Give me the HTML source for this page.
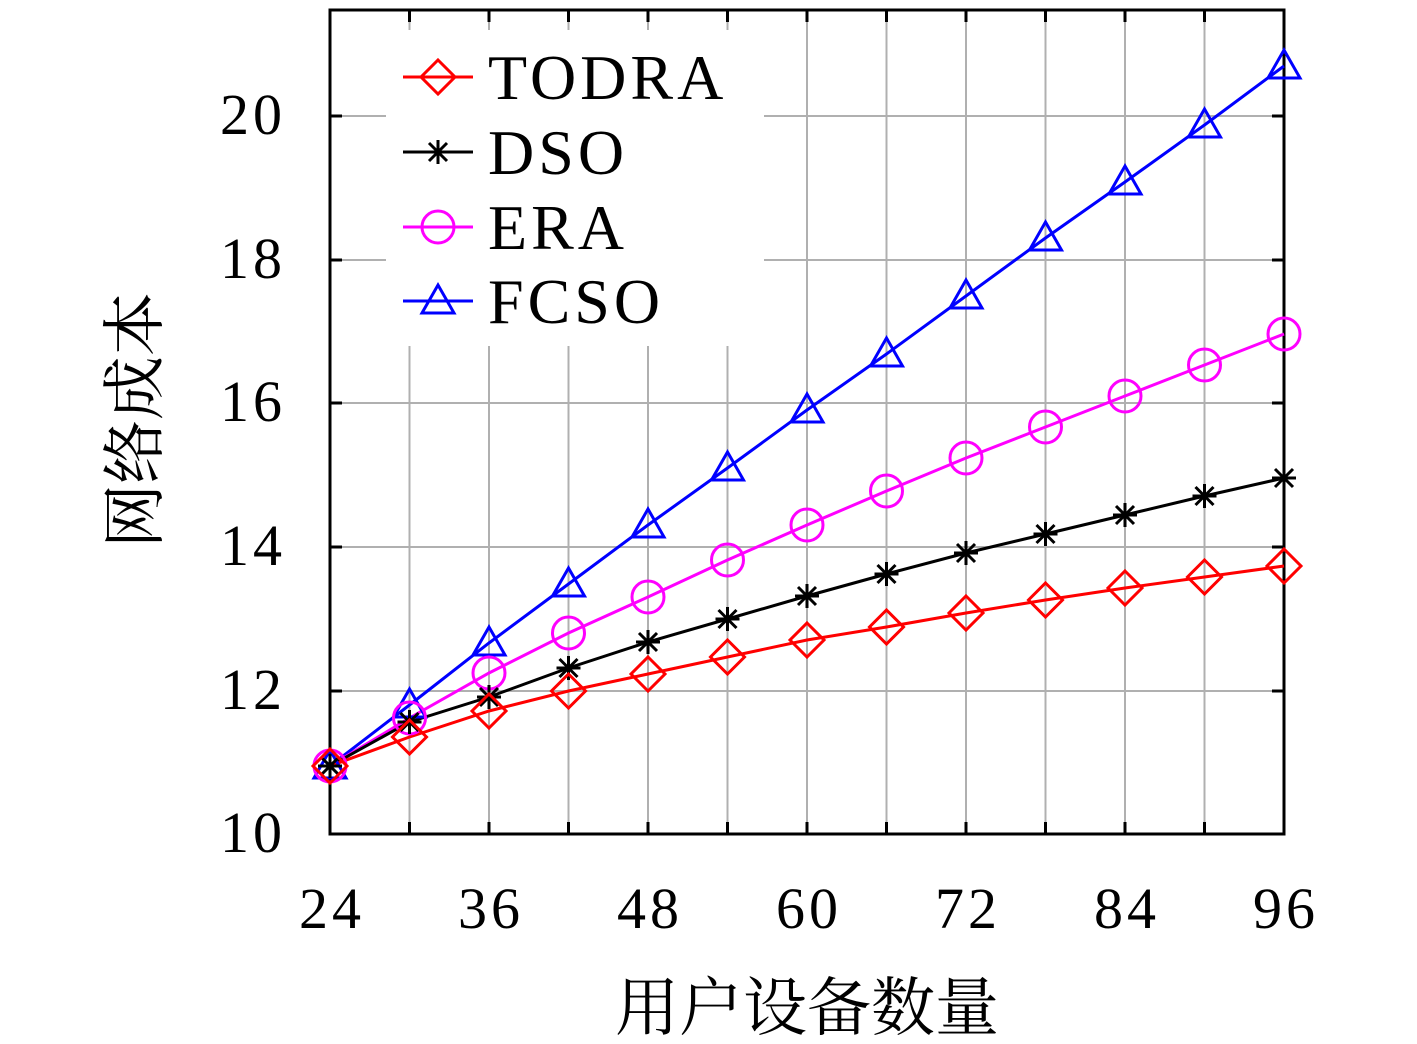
<!DOCTYPE html>
<html><head><meta charset="utf-8"><style>body{margin:0;background:#fff}svg{display:block}</style></head>
<body>
<svg width="1417" height="1044" xmlns="http://www.w3.org/2000/svg" font-family="Liberation Serif, serif">
<rect width="1417" height="1044" fill="#fff"/>
<g stroke="#b0b0b0" stroke-width="2">
<line x1="409.5" y1="10" x2="409.5" y2="834"/><line x1="489" y1="10" x2="489" y2="834"/><line x1="568.5" y1="10" x2="568.5" y2="834"/><line x1="648" y1="10" x2="648" y2="834"/><line x1="727.5" y1="10" x2="727.5" y2="834"/><line x1="807" y1="10" x2="807" y2="834"/><line x1="886.5" y1="10" x2="886.5" y2="834"/><line x1="966" y1="10" x2="966" y2="834"/><line x1="1045.5" y1="10" x2="1045.5" y2="834"/><line x1="1125" y1="10" x2="1125" y2="834"/><line x1="1204.5" y1="10" x2="1204.5" y2="834"/>
<line x1="330" y1="691" x2="1284" y2="691"/><line x1="330" y1="547" x2="1284" y2="547"/><line x1="330" y1="403" x2="1284" y2="403"/><line x1="330" y1="260" x2="1284" y2="260"/><line x1="330" y1="116" x2="1284" y2="116"/>
</g>
<rect x="386" y="30" width="378" height="316" fill="#fff"/>
<g stroke="#000" stroke-width="3">
<rect x="330" y="10" width="954" height="824" fill="none"/>
<path d="M330 691h12M330 547h12M330 403h12M330 260h12M330 116h12M1284 691h-12M1284 547h-12M1284 403h-12M1284 260h-12M1284 116h-12"/>
<path d="M409.5 834v-12M489 834v-12M568.5 834v-12M648 834v-12M727.5 834v-12M807 834v-12M886.5 834v-12M966 834v-12M1045.5 834v-12M1125 834v-12M1204.5 834v-12M409.5 10v12M489 10v12M568.5 10v12M648 10v12M727.5 10v12M807 10v12M886.5 10v12M966 10v12M1045.5 10v12M1125 10v12M1204.5 10v12"/>
</g>
<g font-size="58" text-anchor="end" letter-spacing="4">
<text x="286" y="852">10</text><text x="286" y="709">12</text><text x="286" y="565">14</text><text x="286" y="421">16</text><text x="286" y="278">18</text><text x="286" y="134">20</text>
</g>
<g font-size="58" text-anchor="middle" letter-spacing="4">
<text x="332" y="928">24</text><text x="491" y="928">36</text><text x="650" y="928">48</text><text x="809" y="928">60</text><text x="968" y="928">72</text><text x="1127" y="928">84</text><text x="1286" y="928">96</text>
</g>
<text x="807" y="1030" font-size="64" text-anchor="middle" font-family="Noto Serif CJK SC, serif">用户设备数量</text>
<text transform="translate(157,420) rotate(-90)" font-size="64" text-anchor="middle" font-family="Noto Serif CJK SC, serif">网络成本</text>
<polyline fill="none" stroke="#0000ff" stroke-width="3" points="330,766 409.5,705 489,643 568.5,584 648,525 727.5,468 807,410 886.5,354 966,296 1045.5,238 1125,182 1204.5,125 1284,66"/>
<polyline fill="none" stroke="#ff00ff" stroke-width="3" points="330,766 409.5,718 489,673 568.5,633 648,597 727.5,560 807,525 886.5,491 966,458 1045.5,427 1125,396 1204.5,365 1284,334"/>
<polyline fill="none" stroke="#000" stroke-width="3" points="330,766 409.5,722 489,697 568.5,668 648,642 727.5,619 807,596 886.5,574 966,553 1045.5,534 1125,515 1204.5,496 1284,478"/>
<polyline fill="none" stroke="#ff0000" stroke-width="3" points="330,766 409.5,737 489,711 568.5,691 648,674 727.5,657 807,640 886.5,627 966,613 1045.5,600 1125,588 1204.5,577 1284,566"/>
<defs>
<path id="tri" d="M0,-16 L16,12 L-16,12 Z" fill="none" stroke="#0000ff" stroke-width="3"/>
<circle id="cir" r="16" fill="none" stroke="#ff00ff" stroke-width="3"/>
<path id="ast" d="M-12,0H12M0,-12V12M-9,-9L9,9M-9,9L9,-9" stroke="#000" stroke-width="3"/>
<path id="dia" d="M0,-17 L17,0 L0,17 L-17,0 Z" fill="none" stroke="#ff0000" stroke-width="3"/>
</defs>
<g>
<use href="#tri" x="330" y="766"/><use href="#tri" x="409.5" y="705"/><use href="#tri" x="489" y="643"/><use href="#tri" x="568.5" y="584"/><use href="#tri" x="648" y="525"/><use href="#tri" x="727.5" y="468"/><use href="#tri" x="807" y="410"/><use href="#tri" x="886.5" y="354"/><use href="#tri" x="966" y="296"/><use href="#tri" x="1045.5" y="238"/><use href="#tri" x="1125" y="182"/><use href="#tri" x="1204.5" y="125"/><use href="#tri" x="1284" y="66"/>
<use href="#cir" x="330" y="766"/><use href="#cir" x="409.5" y="718"/><use href="#cir" x="489" y="673"/><use href="#cir" x="568.5" y="633"/><use href="#cir" x="648" y="597"/><use href="#cir" x="727.5" y="560"/><use href="#cir" x="807" y="525"/><use href="#cir" x="886.5" y="491"/><use href="#cir" x="966" y="458"/><use href="#cir" x="1045.5" y="427"/><use href="#cir" x="1125" y="396"/><use href="#cir" x="1204.5" y="365"/><use href="#cir" x="1284" y="334"/>
<use href="#ast" x="330" y="766"/><use href="#ast" x="409.5" y="722"/><use href="#ast" x="489" y="697"/><use href="#ast" x="568.5" y="668"/><use href="#ast" x="648" y="642"/><use href="#ast" x="727.5" y="619"/><use href="#ast" x="807" y="596"/><use href="#ast" x="886.5" y="574"/><use href="#ast" x="966" y="553"/><use href="#ast" x="1045.5" y="534"/><use href="#ast" x="1125" y="515"/><use href="#ast" x="1204.5" y="496"/><use href="#ast" x="1284" y="478"/>
<use href="#dia" x="330" y="766"/><use href="#dia" x="409.5" y="737"/><use href="#dia" x="489" y="711"/><use href="#dia" x="568.5" y="691"/><use href="#dia" x="648" y="674"/><use href="#dia" x="727.5" y="657"/><use href="#dia" x="807" y="640"/><use href="#dia" x="886.5" y="627"/><use href="#dia" x="966" y="613"/><use href="#dia" x="1045.5" y="600"/><use href="#dia" x="1125" y="588"/><use href="#dia" x="1204.5" y="577"/><use href="#dia" x="1284" y="566"/>
</g>
<g stroke-width="3">
<line x1="403" y1="77" x2="473" y2="77" stroke="#ff0000"/><use href="#dia" x="438" y="77"/>
<line x1="403" y1="152" x2="473" y2="152" stroke="#000"/><use href="#ast" x="438" y="152"/>
<line x1="403" y1="227" x2="473" y2="227" stroke="#ff00ff"/><use href="#cir" x="438" y="227"/>
<line x1="403" y1="301" x2="473" y2="301" stroke="#0000ff"/><use href="#tri" x="438" y="301"/>
</g>
<g font-size="64" letter-spacing="4">
<text x="488" y="99">TODRA</text><text x="488" y="174">DSO</text><text x="488" y="249">ERA</text><text x="488" y="323">FCSO</text>
</g>
</svg>
</body></html>
